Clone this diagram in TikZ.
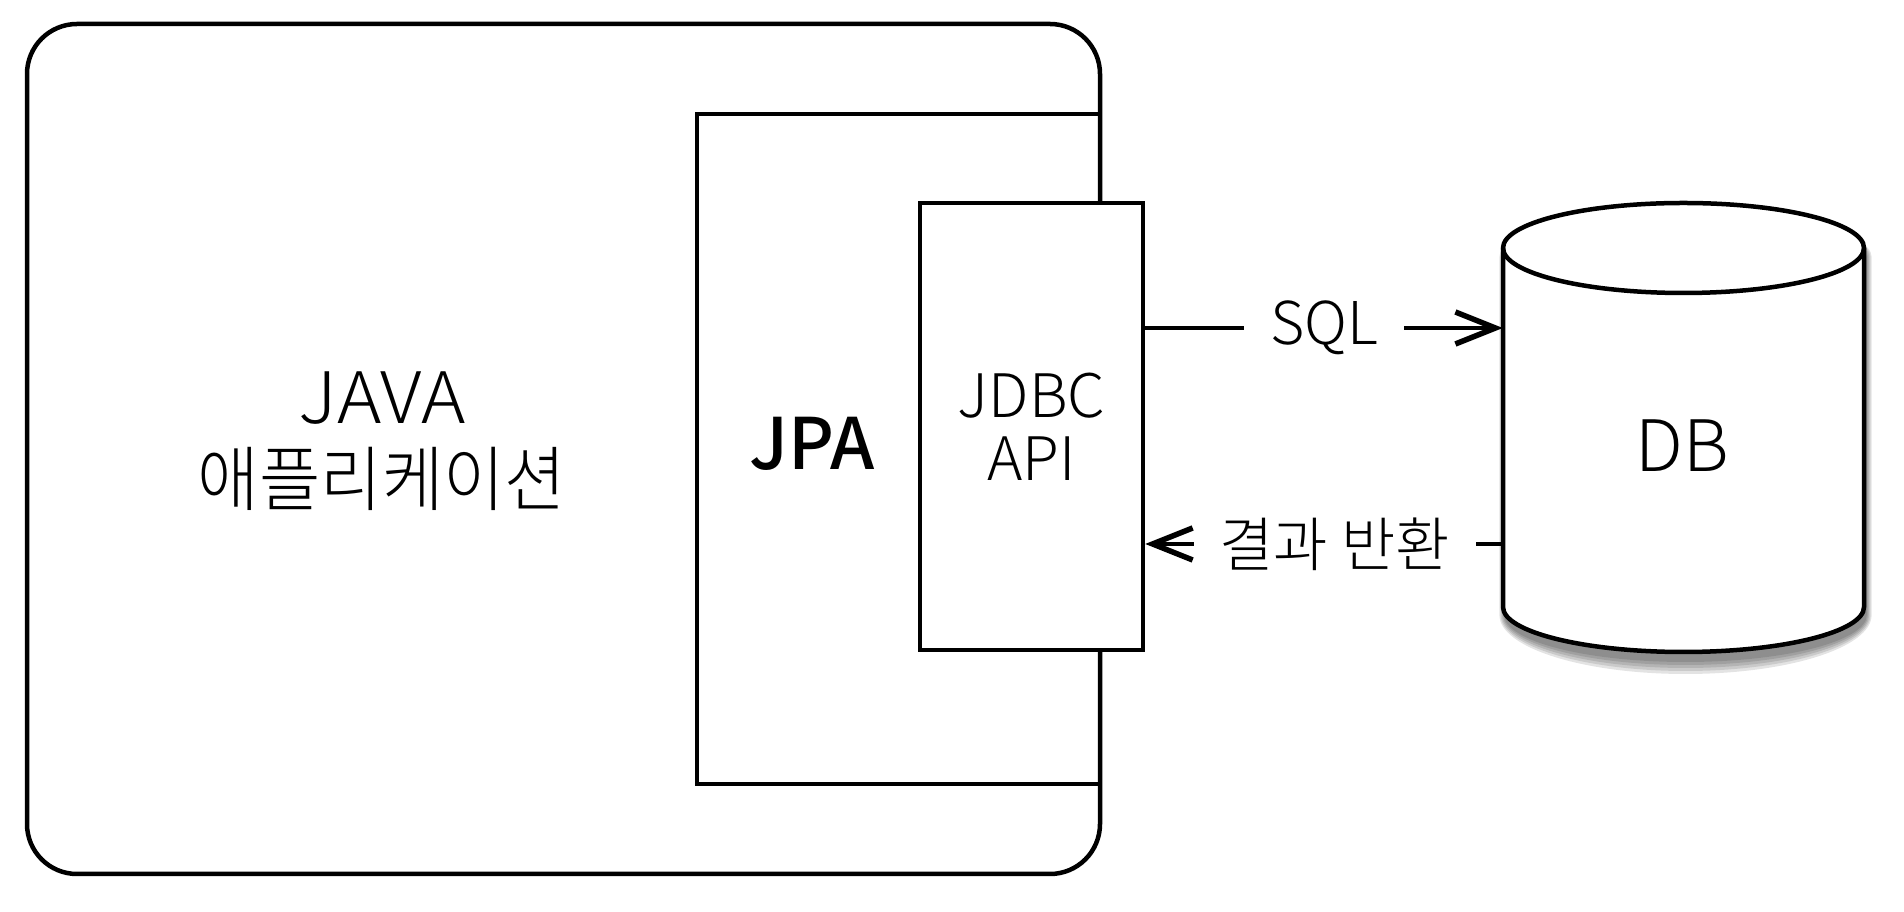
\documentclass[tikz,border=0pt]{standalone}
\usepackage{fontspec}
\setmainfont{Noto Sans CJK KR Light}[BoldFont=Noto Sans CJK KR Medium]
\newfontfamily\narrowkr{Noto Sans CJK KR Light}[FakeStretch=0.94]
\newfontfamily\widelat{Noto Sans CJK KR Light}[FakeStretch=1.06]
\usetikzlibrary{arrows.meta}
\begin{document}
\begin{tikzpicture}[x=1pt,y=1pt,
  box/.style={draw=black, line width=4.5pt, rectangle, inner sep=0pt},
  big/.style={font=\fontsize{71}{82}\selectfont, align=center, inner sep=0pt},
  small/.style={font=\fontsize{60}{63}\selectfont, align=center},
  conn/.style={line width=4.5pt, -{Straight Barb[length=40pt,width=32pt,line width=5.5pt]}},
  lbl/.style={fill=white, inner xsep=26pt, inner ysep=2pt, font=\fontsize{59}{63}\selectfont}]
\useasboundingbox (0,0) rectangle (1904,912);
% application
\node[box, rounded corners=50pt, minimum width=1073pt, minimum height=850pt] (app) at (563.5,463) {};
\node[big] (apptext) at (382,471) {{\widelat JAVA}\\{\narrowkr 애플리케이션}};
% JPA
\node[box, minimum width=403pt, minimum height=670pt] (jpa) at (898.5,463) {};
\node[big, font=\fontsize{71}{82}\selectfont\bfseries] (jpatext) at (812,468) {JPA};
% JDBC
\node[box, fill=white, minimum width=223pt, minimum height=447pt, small] (jdbc) at (1031.5,485.5) {JDBC\\API};
% DB cylinder
\node[minimum width=361pt, minimum height=449pt, inner sep=0pt] (db) at (1683.5,484.5) {};
\foreach \d in {14,11,8,5,2} {
  \fill[black, opacity=0.11] ({1505-\d*0.4},655) -- ({1505-\d*0.4},297)
    arc[start angle=180, end angle=360, x radius={(180.5+\d*0.4)*1pt}, y radius={(45+\d)*1pt}]
    -- ({1866+\d*0.4},655)
    arc[start angle=0, end angle=180, x radius={(180.5+\d*0.4)*1pt}, y radius=45pt] -- cycle;
}
\filldraw[fill=white, line width=4.5pt] (1503,664) -- (1503,305)
  arc[start angle=180, end angle=360, x radius=180.5pt, y radius=45pt]
  -- (1864,664)
  arc[start angle=0, end angle=180, x radius=180.5pt, y radius=45pt] -- cycle;
\draw[line width=4.5pt] (1503,664) arc[start angle=180, end angle=360, x radius=180.5pt, y radius=45pt];
\node[big] (dbtext) at (1682,466) {DB};
% connectors
\coordinate (sqlrow) at (0,584);
\coordinate (retrow) at (0,368);
\draw[conn] (jdbc.east |- sqlrow) -- node[lbl]{SQL} (db.west |- sqlrow);
\draw[conn] (db.west |- retrow) -- node[lbl, pos=0.47]{결과 반환} (jdbc.east |- retrow);
\end{tikzpicture}
\end{document}
